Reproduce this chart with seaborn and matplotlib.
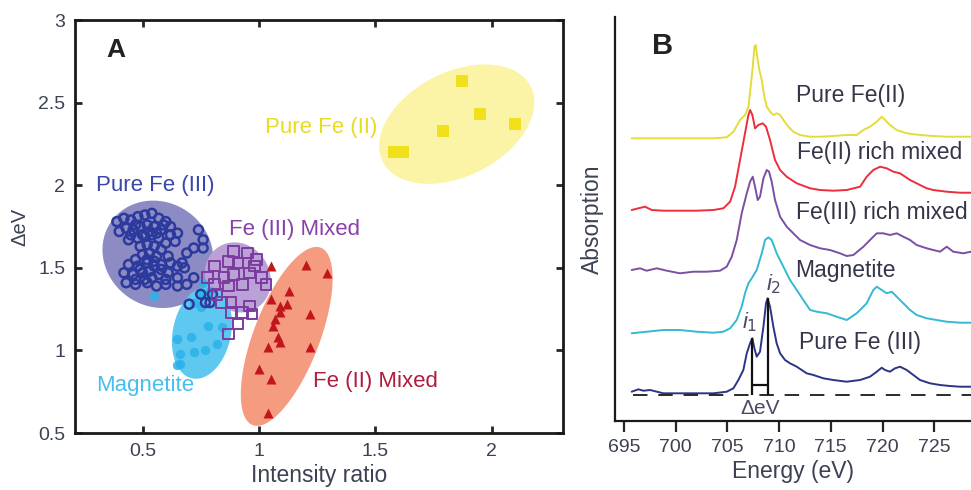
import numpy as np
import pandas as pd
import matplotlib
matplotlib.use("Agg")
import matplotlib.pyplot as plt
import seaborn as sns

# ---------------- Panel A: intensity ratio vs delta eV ----------------
fe2_pure_x = [1.58, 1.62, 1.79, 1.87, 1.95, 2.10]
fe2_pure_y = [2.20, 2.20, 2.33, 2.63, 2.43, 2.37]

fe3_pure_x = [0.39, 0.42, 0.45, 0.48, 0.51, 0.54, 0.57, 0.60, 0.62, 0.65,
              0.40, 0.43, 0.46, 0.49, 0.52, 0.55, 0.58, 0.62, 0.64,
              0.44, 0.48, 0.51, 0.54, 0.57, 0.60,
              0.49, 0.52, 0.55, 0.58,
              0.50, 0.53, 0.56, 0.61,
              0.47, 0.44, 0.48, 0.52, 0.55, 0.58, 0.62, 0.65, 0.68,
              0.42, 0.46, 0.50, 0.54, 0.57, 0.61, 0.65,
              0.43, 0.47, 0.52, 0.56, 0.60, 0.65, 0.69,
              0.74, 0.76, 0.72, 0.76, 0.69, 0.67, 0.72, 0.70, 0.77, 0.75, 0.80, 0.79,
              0.50, 0.53, 0.56, 0.47, 0.45, 0.59, 0.52, 0.55, 0.49, 0.53, 0.58, 0.51, 0.60, 0.47]
fe3_pure_y = [1.78, 1.80, 1.79, 1.81, 1.82, 1.83, 1.80, 1.78, 1.75, 1.71,
              1.72, 1.74, 1.73, 1.75, 1.76, 1.75, 1.73, 1.70, 1.66,
              1.67, 1.68, 1.69, 1.70, 1.68, 1.65,
              1.63, 1.64, 1.63, 1.61,
              1.58, 1.59, 1.57, 1.57,
              1.55, 1.52, 1.51, 1.53, 1.51, 1.52, 1.53, 1.51, 1.50,
              1.47, 1.46, 1.47, 1.44, 1.46, 1.47, 1.44,
              1.41, 1.40, 1.41, 1.39, 1.40, 1.39, 1.40,
              1.73, 1.67, 1.62, 1.62, 1.59, 1.53, 1.44, 1.28, 1.29, 1.34, 1.34, 1.29,
              1.70, 1.72, 1.71, 1.76, 1.70, 1.76, 1.55, 1.54, 1.49, 1.48, 1.49, 1.43, 1.43, 1.43]

mag_x = [0.55, 0.65, 0.71, 0.77, 0.72, 0.66, 0.78, 0.82, 0.66, 0.84, 0.75, 0.79, 0.75, 0.72, 0.65, 0.76]
mag_y = [1.33, 1.07, 1.08, 1.00, 0.99, 0.98, 1.15, 1.04, 0.92, 1.14, 1.26, 1.36, 1.34, 1.29, 0.91, 1.41]

fe3_mix_x = [0.89, 0.87, 0.91, 0.99, 0.81, 0.85, 0.89, 0.96, 1.01, 1.03, 0.81, 0.87, 0.93,
             0.82, 0.88, 0.96, 0.88, 0.93, 0.97, 0.91, 0.87, 0.95, 0.98, 0.78, 0.84]
fe3_mix_y = [1.60, 1.54, 1.53, 1.55, 1.51, 1.44, 1.46, 1.47, 1.44, 1.40, 1.40, 1.39, 1.40,
             1.34, 1.29, 1.27, 1.23, 1.23, 1.22, 1.16, 1.10, 1.59, 1.51, 1.44, 1.29]

fe2_mix_x = [1.05, 1.20, 1.29, 1.05, 1.13, 1.12, 1.09, 1.22, 1.09, 1.07, 1.06, 1.08, 1.09,
             1.04, 1.22, 1.00, 1.05, 1.04]
fe2_mix_y = [1.51, 1.52, 1.47, 1.31, 1.36, 1.28, 1.27, 1.22, 1.23, 1.19, 1.15, 1.08, 1.05,
             1.02, 1.02, 0.89, 0.83, 0.62]

# shaded regions: centre (data), semi axes (px), angle (deg on screen)
regions = {
    "fe2_pure": (1.849, 2.370, 83, 52, 27, "#fbf4a6"),
    "fe3_pure": (0.566, 1.582, 57, 52, -35, "#8d8bc4"),
    "fe3_mix": (0.909, 1.442, 36, 32, -60, "#bba2d6"),
    "mag": (0.755, 1.109, 47, 29, 78, "#5ec8f0"),
    "fe2_mix": (1.119, 1.085, 95, 33, 69, "#f59b80"),
}

# ---------------- Panel B: Fe L-edge spectra ----------------
fe2_e = [695.76, 697.21, 698.82, 700.43, 702.05, 703.66, 704.94, 705.59, 706.23, 706.71,
         707.04, 707.26, 707.46, 707.62, 707.75, 707.91, 708.10, 708.33, 708.58, 708.81,
         709.13, 709.45, 709.77, 710.10, 710.42, 710.90, 711.38, 712.03, 713.00, 713.96,
         715.25, 716.54, 717.50, 718.15, 718.79, 719.44, 719.92, 720.24, 720.72, 721.37,
         722.34, 723.62, 724.91, 726.20, 727.49, 728.55]
fe2_a = [2.827, 2.827, 2.827, 2.827, 2.827, 2.827, 2.837, 2.893, 3.010, 3.060,
         3.143, 3.343, 3.543, 3.743, 3.760, 3.627, 3.510, 3.410, 3.243, 3.143,
         3.093, 3.060, 3.077, 3.060, 3.010, 2.943, 2.893, 2.860, 2.843, 2.843,
         2.850, 2.860, 2.860, 2.910, 2.943, 2.993, 3.043, 3.010, 2.960, 2.910,
         2.877, 2.860, 2.850, 2.843, 2.843, 2.843]

fe2rich_e = [695.76, 696.41, 697.05, 697.70, 698.82, 700.43, 702.05, 703.66, 704.62, 705.27,
             705.75, 706.23, 706.71, 707.04, 707.20, 707.42, 707.68, 708.00, 708.42, 708.74,
             709.13, 709.61, 710.10, 710.74, 711.71, 713.00, 713.96, 715.25, 716.54, 717.83,
             718.47, 719.11, 719.76, 720.40, 721.05, 721.69, 722.66, 723.62, 724.27, 724.91,
             726.20, 727.49, 728.55]
fe2rich_a = [2.110, 2.127, 2.143, 2.110, 2.103, 2.103, 2.103, 2.110, 2.127, 2.193,
             2.343, 2.610, 2.877, 3.060, 3.110, 3.060, 2.927, 2.960, 2.977, 2.943,
             2.810, 2.610, 2.510, 2.443, 2.377, 2.327, 2.310, 2.303, 2.310, 2.343,
             2.443, 2.510, 2.543, 2.527, 2.493, 2.477, 2.410, 2.360, 2.327, 2.310,
             2.293, 2.283, 2.283]

fe3rich_e = [695.76, 696.57, 697.21, 698.18, 699.15, 700.43, 701.72, 703.01, 704.30, 704.94,
             705.43, 705.91, 706.39, 706.88, 707.20, 707.46, 707.68, 707.94, 708.16, 708.49,
             708.81, 709.03, 709.29, 709.61, 710.10, 710.74, 711.38, 712.03, 713.00, 713.96,
             714.93, 715.89, 716.54, 717.18, 718.15, 718.79, 719.44, 720.08, 720.72, 721.37,
             722.01, 722.66, 723.30, 724.27, 724.91, 725.56, 726.20, 726.84, 727.81, 728.55]
fe3rich_a = [1.510, 1.527, 1.503, 1.527, 1.503, 1.477, 1.493, 1.493, 1.503, 1.543,
             1.643, 1.810, 2.077, 2.277, 2.393, 2.443, 2.343, 2.210, 2.243, 2.427,
             2.510, 2.493, 2.393, 2.210, 2.043, 1.943, 1.877, 1.810, 1.760, 1.727,
             1.710, 1.677, 1.650, 1.660, 1.743, 1.810, 1.877, 1.877, 1.860, 1.877,
             1.843, 1.810, 1.760, 1.727, 1.710, 1.693, 1.743, 1.693, 1.677, 1.693]

mag_e = [695.76, 697.21, 698.82, 700.43, 702.05, 703.66, 704.62, 705.27, 705.91, 706.39,
         706.71, 707.04, 707.36, 707.84, 708.33, 708.65, 708.97, 709.29, 709.77, 710.42,
         711.06, 711.71, 712.35, 713.00, 713.64, 714.61, 715.57, 716.54, 717.50, 718.47,
         719.11, 719.44, 719.92, 720.40, 720.89, 721.37, 722.01, 722.66, 723.30, 724.27,
         725.23, 726.20, 727.49, 728.55]
mag_a = [0.877, 0.893, 0.910, 0.910, 0.893, 0.883, 0.893, 0.927, 1.010, 1.143,
         1.277, 1.377, 1.427, 1.510, 1.677, 1.810, 1.837, 1.810, 1.677, 1.543,
         1.410, 1.310, 1.210, 1.110, 1.093, 1.077, 1.043, 1.010, 1.077, 1.177,
         1.310, 1.343, 1.310, 1.277, 1.293, 1.243, 1.177, 1.110, 1.060, 1.027,
         1.010, 0.993, 0.983, 0.983]

fe3_e = [695.76, 696.41, 696.89, 697.54, 698.82, 700.43, 702.05, 703.66, 704.94, 705.59,
         706.07, 706.55, 706.88, 707.20, 707.42, 707.62, 707.84, 708.16, 708.49, 708.74,
         708.90, 709.13, 709.45, 709.77, 710.10, 710.58, 711.06, 711.71, 712.67, 713.32,
         714.28, 715.25, 716.54, 717.83, 718.79, 719.44, 719.92, 720.24, 720.72, 721.21,
         721.69, 722.34, 722.98, 723.62, 724.59, 725.56, 726.52, 727.49, 728.55]
fe3_a = [0.293, 0.317, 0.303, 0.310, 0.277, 0.277, 0.277, 0.277, 0.293, 0.327,
         0.410, 0.510, 0.677, 0.777, 0.827, 0.727, 0.643, 0.693, 0.943, 1.177,
         1.227, 1.143, 0.943, 0.777, 0.677, 0.610, 0.577, 0.543, 0.477, 0.460,
         0.427, 0.410, 0.393, 0.410, 0.443, 0.493, 0.533, 0.510, 0.493, 0.527,
         0.543, 0.510, 0.460, 0.410, 0.377, 0.360, 0.350, 0.343, 0.343]

spectra = [
    ("Pure Fe(II)", fe2_e, fe2_a, "#e3dc3a", (711.6, 3.26)),
    ("Fe(II) rich mixed", fe2rich_e, fe2rich_a, "#ee2d3c", (711.7, 2.69)),
    ("Fe(III) rich mixed", fe3rich_e, fe3rich_a, "#7b4fa3", (711.6, 2.09)),
    ("Magnetite", mag_e, mag_a, "#33bad2", (711.6, 1.51)),
    ("Pure Fe (III)", fe3_e, fe3_a, "#2b3585", (711.9, 0.79)),
]
dash_level = 0.26

sns.set_style("ticks")
plt.rcParams["font.family"] = ["Liberation Sans", "DejaVu Sans"]
plt.rcParams["mathtext.fontset"] = "custom"
plt.rcParams["mathtext.it"] = "Liberation Sans:italic"
text_col = "#3c4154"

fig = plt.figure(figsize=(9.71, 4.9), dpi=100)
axA = fig.add_axes([0.0772, 0.1163, 0.5026, 0.8427])
axB = fig.add_axes([0.6334, 0.1408, 0.3666, 0.8245])

# ---- panel A ----
axA.set_xlim(0.21, 2.305)
axA.set_ylim(0.5, 3)
bb = axA.get_window_extent()
sx = bb.width / (2.305 - 0.21)
sy = bb.height / (3 - 0.5)
t = np.linspace(0, 2 * np.pi, 240)
for key, (cx, cy, a, b, ang, col) in regions.items():
    th = np.deg2rad(ang)
    ex = cx + (a * np.cos(th) * np.cos(t) - b * np.sin(th) * np.sin(t)) / sx
    ey = cy + (a * np.sin(th) * np.cos(t) + b * np.cos(th) * np.sin(t)) / sy
    axA.fill(ex, ey, color=col, lw=0, zorder=1)

sns.scatterplot(x=mag_x, y=mag_y, ax=axA, color="#2bb2e8", s=45, marker="o",
                linewidth=0, alpha=0.85, zorder=3)
sns.scatterplot(x=fe3_pure_x, y=fe3_pure_y, ax=axA, marker="o", s=42,
                facecolor="none", edgecolor="#2c3a9e", linewidth=1.8, zorder=4)
sns.scatterplot(x=fe3_mix_x, y=fe3_mix_y, ax=axA, marker="s", s=58,
                facecolor="none", edgecolor="#7c3ba0", linewidth=1.4, zorder=5)
sns.scatterplot(x=fe2_mix_x, y=fe2_mix_y, ax=axA, marker="^", s=52,
                color="#c2161d", linewidth=0, zorder=6)
sns.scatterplot(x=fe2_pure_x, y=fe2_pure_y, ax=axA, marker="s", s=75,
                color="#f1e11c", linewidth=0, zorder=6)

fs_lab = 16
axA.text(1.51, 2.35, "Pure Fe (II)", color="#e8dc22", fontsize=fs_lab, ha="right", va="center")
axA.text(0.30, 2.00, "Pure Fe (III)", color="#3a46a8", fontsize=fs_lab, ha="left", va="center")
axA.text(0.87, 1.73, "Fe (III) Mixed", color="#8a40a8", fontsize=fs_lab, ha="left", va="center")
axA.text(0.30, 0.79, "Magnetite", color="#45bff0", fontsize=fs_lab, ha="left", va="center")
axA.text(1.23, 0.81, "Fe (II) Mixed", color="#b01c3c", fontsize=fs_lab, ha="left", va="center")
axA.text(0.346, 2.82, "A", fontsize=19, fontweight="bold", ha="left", va="center", color="#222222")

axA.set_xticks([0.5, 1, 1.5, 2])
axA.set_xticklabels(["0.5", "1", "1.5", "2"])
axA.set_yticks([0.5, 1, 1.5, 2, 2.5, 3])
axA.set_yticklabels(["0.5", "1", "1.5", "2", "2.5", "3"])
axA.tick_params(direction="in", length=5, width=2, top=True, right=True,
                labelsize=14, labelcolor=text_col, pad=7)
for sp in axA.spines.values():
    sp.set_linewidth(2)
    sp.set_color("#1a1a1a")
axA.set_xlabel("Intensity ratio", fontsize=16.5, color=text_col, labelpad=3)
axA.set_ylabel("ΔeV", fontsize=14.5, color=text_col, labelpad=6)

# ---- panel B ----
for name, e, a, col, pos in spectra:
    sns.lineplot(x=e, y=a, ax=axB, color=col, linewidth=1.4, estimator=None, sort=False)
    axB.text(pos[0], pos[1], name, fontsize=16.5, color="#35354a", ha="left", va="center")

axB.set_xlim(694.15, 728.55)
axB.set_ylim(0, 4.04)
axB.hlines(dash_level, 695.9, 728.55, colors="#1a1a1a", linestyles=(0, (8, 6)), linewidth=1.3)

# delta eV bracket between the two Fe(III) peaks
e3 = np.array(fe3_e)
a3 = np.array(fe3_a)
win = (e3 > 707) & (e3 < 708)
i1_e, i1_a = e3[win][np.argmax(a3[win])], a3[win].max()
i2_e, i2_a = e3[np.argmax(a3)], a3.max()
axB.vlines([i1_e, i2_e], dash_level, [i1_a, i2_a], colors="#111111", linewidth=1.6)
axB.hlines(0.36, i1_e, i2_e, colors="#111111", linewidth=1.6)
axB.text((i1_e + i2_e) / 2, 0.13, "ΔeV", fontsize=15, color="#4a4a66", ha="center", va="center")
axB.text(i1_e - 0.25, i1_a + 0.16, "$i_1$", fontsize=16, color="#4a4a66", ha="center", va="center")
axB.text(i2_e + 0.55, i2_a + 0.14, "$i_2$", fontsize=16, color="#4a4a66", ha="center", va="center")
axB.text(697.7, 3.75, "B", fontsize=21, fontweight="bold", ha="left", va="center", color="#222222")

axB.set_xticks([695, 700, 705, 710, 715, 720, 725])
axB.set_xticklabels(["695", "700", "705", "710", "715", "720", "725"])
axB.set_yticks([])
axB.tick_params(axis="x", direction="out", length=8, width=1.6, labelsize=14,
                labelcolor=text_col, pad=5)
sns.despine(ax=axB)
for sp in ["left", "bottom"]:
    axB.spines[sp].set_linewidth(1.6)
    axB.spines[sp].set_color("#1a1a1a")
axB.set_xlabel("Energy (eV)", fontsize=16.5, color=text_col, labelpad=3)
axB.set_ylabel("Absorption", fontsize=16.5, color=text_col, labelpad=8)

fig.savefig("out.png", dpi=100)
